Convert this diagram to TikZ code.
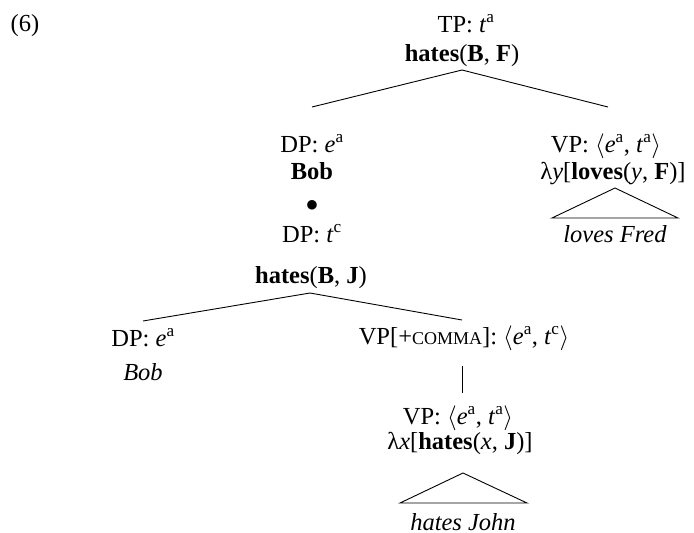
\documentclass[tikz,border=0pt]{standalone}
\usepackage{fontspec}
\setmainfont{Liberation Serif}
\newcommand\fsc[1]{{\fontsize{18}{18}\selectfont #1}}
\newcommand\sps[1]{\textsuperscript{#1}}
\begin{document}
\begin{tikzpicture}[x=1pt,y=-1pt,
  lab/.style={anchor=base,inner sep=0pt,font=\fontsize{24.5}{28}\selectfont},
  edge/.style={line width=0.9pt}]
\useasboundingbox (0,0) rectangle (694,533);
% example number
\node[lab] (num) at (25,31) {(6)};
% root
\node[lab] (tp) at (466,32) {TP: \textit{t}\sps{a}};
\node[lab] (tpsem) at (462,61) {\textbf{hates}(\textbf{B}, \textbf{F})};
% left daughter
\node[lab] (dp1) at (312,152) {DP: \textit{e}\sps{a}};
\node[lab] (bob1) at (312,179) {\textbf{Bob}};
\node[lab] (dot) at (312,211) {$\bullet$};
\node[lab] (dp2) at (312,242) {DP: \textit{t}\sps{c}};
\node[lab] (dp2sem) at (311,283) {\textbf{hates}(\textbf{B}, \textbf{J})};
% right daughter
\node[lab] (vp1) at (606,152) {VP: $\langle$\textit{e}\sps{a}, \textit{t}\sps{a}$\rangle$};
\node[lab] (vp1sem) at (613,179) {λ\textit{y}[\textbf{loves}(\textit{y}, \textbf{F})]};
\node[lab] (vp1yield) at (615,242) {\textit{loves Fred}};
% lower level
\node[lab] (dp3) at (143,346) {DP: \textit{e}\sps{a}};
\node[lab] (bob2) at (143,380) {\textit{Bob}};
\node[lab] (vpc) at (464,344) {VP[+\fsc{COMMA}]: $\langle$\textit{e}\sps{a}, \textit{t}\sps{c}$\rangle$};
\node[lab] (vp2) at (458,424) {VP: $\langle$\textit{e}\sps{a}, \textit{t}\sps{a}$\rangle$};
\node[lab] (vp2sem) at (460,449) {λ\textit{x}[\textbf{hates}(\textit{x}, \textbf{J})]};
\node[lab] (vp2yield) at (463,530) {\textit{hates John}};
% connector end points
\coordinate (r0) at (462,70);
\coordinate (r1) at (312,107);
\coordinate (r2) at (608,107);
\coordinate (s0) at (310,293);
\coordinate (s1) at (143,321);
\coordinate (s2) at (462,320);
\coordinate (u0) at (462,366);
\coordinate (u1) at (462,393);
\coordinate (ta) at (615,188);
\coordinate (tl) at (552,218);
\coordinate (tr) at (678,218);
\coordinate (ha) at (463,473);
\coordinate (hl) at (400,503);
\coordinate (hr) at (527,503);
% connectors
\draw[edge] (r1) -- (r0) -- (r2);
\draw[edge] (s1) -- (s0) -- (s2);
\draw[edge] (u0) -- (u1);
\draw[edge] (ta) -- (tl) -- (tr) -- cycle;
\draw[edge] (ha) -- (hl) -- (hr) -- cycle;
\end{tikzpicture}
\end{document}
